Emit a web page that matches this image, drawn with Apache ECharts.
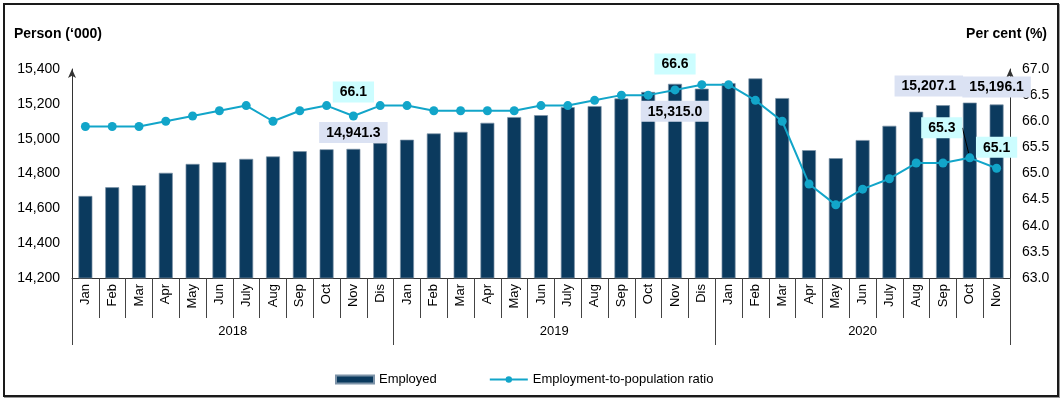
<!DOCTYPE html>
<html>
<head>
<meta charset="utf-8">
<script src="https://cdn.jsdelivr.net/npm/echarts@6/dist/echarts.min.js"></script>
<style>
  body { margin: 0; background: #fff; }
  #char1 { position: absolute; left: 0; top: 0; width: 1063px; height: 399px; }
  #frame { position: absolute; left: 3px; top: 3px; width: 1052px; height: 390px;
           border: 2px solid #1a1a1a; box-shadow: 1px 1px 0 #999; pointer-events: none; }
</style>
</head>
<body>
<div id="char1"></div>
<div id="frame"></div>
<script>
var months = ['Jan', 'Feb', 'Mar', 'Apr', 'May', 'Jun', 'July', 'Aug', 'Sep', 'Oct', 'Nov', 'Dis'];
var years = ['2018', '2019', '2020'];
var monthsPerYear = [12, 12, 11];

// Employed, persons ('000)
var employed = [14671, 14721, 14733, 14804, 14855, 14865, 14884, 14898, 14928, 14939, 14941.3, 14975,
    14994, 15030, 15039, 15091, 15124, 15135, 15181, 15187, 15231, 15268, 15315.0, 15287,
    15319, 15346, 15233, 14934, 14888, 14992, 15074, 15155, 15192, 15207.1, 15196.1];

// Employment-to-population ratio (%)
var ratio = [65.9, 65.9, 65.9, 66.0, 66.1, 66.2, 66.3, 66.0, 66.2, 66.3, 66.1, 66.3,
    66.3, 66.2, 66.2, 66.2, 66.2, 66.3, 66.3, 66.4, 66.5, 66.5, 66.6, 66.7,
    66.7, 66.4, 66.0, 64.8, 64.4, 64.7, 64.9, 65.2, 65.2, 65.3, 65.1];

var labelledPoints = [10, 22, 33, 34];

var cats = [], yearOf = [], yearStart = [], yearMid = {};
var k = 0;
years.forEach(function(y, i) {
    yearStart.push(k);
    yearMid[k + Math.floor(monthsPerYear[i] / 2)] = monthsPerYear[i] % 2 === 0;
    for (var m = 0; m < monthsPerYear[i]; m++) {
        cats.push(months[m] + ' ' + y);
        yearOf.push(y);
        k++;
    }
});

var font = 'Liberation Sans, Arial, sans-serif';
var boxLabel = {
    show: true, color: '#000', fontWeight: 'bold', fontSize: 14, fontFamily: font,
    padding: [4, 7, 3, 7]
};

var barData = employed.map(function(v, i) {
    if (labelledPoints.indexOf(i) < 0) return v;
    var lab = Object.assign({}, boxLabel, {
        backgroundColor: '#dbe2f3',
        formatter: function(p) { return p.value.toLocaleString('en-US', {minimumFractionDigits: 1, maximumFractionDigits: 1}); }
    });
    if (i === 10) { lab.position = 'top'; lab.distance = 6; }
    if (i === 22) { lab.position = 'insideTop'; lab.distance = 17; }
    if (i === 33) { lab.position = 'top'; lab.distance = 6; lab.offset = [-41, 0]; }
    if (i === 34) { lab.position = 'top'; lab.distance = 7; }
    return { value: v, label: lab };
});

var lineData = ratio.map(function(v, i) {
    if (labelledPoints.indexOf(i) < 0) return v;
    var lab = Object.assign({}, boxLabel, {
        backgroundColor: '#ccfdff', position: 'top', distance: 9,
        formatter: function(p) { return p.value.toFixed(1); }
    });
    var item = { value: v, label: lab };
    if (i !== 33) item.labelLine = { show: false };
    if (i === 22) { lab.distance = 11; }
    if (i === 34) { lab.distance = 6; }
    return item;
});

var myChart = echarts.init(document.getElementById('char1'));

var option = {
    animation: false,
    textStyle: { fontFamily: font },
    title: [
        { text: 'Person (\u2018000)', left: 9, top: 22,
          textStyle: { fontSize: 14, fontWeight: 'bold', color: '#000', fontFamily: font } },
        { text: 'Per cent (%)', right: 11, top: 22,
          textStyle: { fontSize: 14, fontWeight: 'bold', color: '#000', fontFamily: font } }
    ],
    legend: {
        bottom: 8,
        left: 330,
        itemWidth: 38,
        itemHeight: 8,
        itemGap: 52,
        textStyle: { fontSize: 13, color: '#000', fontFamily: font },
        data: [{ name: 'Employed', icon: 'rect' }, 'Employment-to-population ratio']
    },
    grid: { left: 72, right: 53, top: 69, bottom: 121 },
    xAxis: [{
        type: 'category',
        data: cats,
        position: 'bottom',
        axisLine: { onZero: false, lineStyle: { color: '#333', width: 1 } },
        axisTick: { show: true, interval: 0, length: 40, lineStyle: { color: '#444' } },
        axisLabel: {
            interval: 0, rotate: 90, margin: 6, fontSize: 13, color: '#000',
            formatter: function(v) { return v.split(' ')[0]; }
        }
    }, {
        type: 'category',
        data: yearOf,
        position: 'bottom',
        axisLine: { show: false },
        axisTick: {
            show: true, length: 67, lineStyle: { color: '#444' },
            interval: function(idx) { return yearStart.indexOf(idx) >= 0; }
        },
        axisLabel: {
            margin: 47, fontSize: 13, color: '#000',
            interval: function(idx) { return yearMid.hasOwnProperty(idx); },
            formatter: function(v, idx) { return yearMid[idx] ? '{s|' + v + '}' : v; },
            rich: { s: { fontSize: 13, color: '#000', padding: [0, 27, 0, 0] } }
        }
    }],
    yAxis: [{
        type: 'value',
        min: 14200, max: 15400, interval: 200,
        splitLine: { show: false },
        axisLine: { show: true, symbol: ['none', 'arrow'], symbolSize: [6, 9], lineStyle: { color: '#333' } },
        axisTick: { show: false },
        axisLabel: {
            margin: 12, fontSize: 14, color: '#000',
            formatter: function(v) { return v.toLocaleString('en-US'); }
        }
    }, {
        type: 'value',
        min: 63, max: 67, interval: 0.5,
        splitLine: { show: false },
        axisLine: { show: true, symbol: ['none', 'arrow'], symbolSize: [6, 9], lineStyle: { color: '#333' } },
        axisTick: { show: false },
        axisLabel: {
            margin: 12, fontSize: 14, color: '#000',
            formatter: function(v) { return v.toFixed(1); }
        }
    }],
    series: [{
        name: 'Employed',
        type: 'bar',
        xAxisIndex: 0,
        yAxisIndex: 0,
        barWidth: '52%',
        data: barData,
        itemStyle: { color: '#0b3a5e', borderColor: '#7d93a8', borderWidth: 0.7 },
        z: 2
    }, {
        name: 'Employment-to-population ratio',
        type: 'line',
        xAxisIndex: 0,
        yAxisIndex: 1,
        data: lineData,
        symbol: 'circle',
        symbolSize: 9,
        itemStyle: { color: '#12a5c9' },
        lineStyle: { color: '#12a5c9', width: 2 },
        labelLine: { show: true, lineStyle: { color: '#000', width: 1 } },
        labelLayout: function(p) {
            if (p.dataIndex === 33) return { dx: -28, dy: -6 };
        },
        z: 3
    }]
};

myChart.setOption(option);
window.addEventListener('resize', function() { myChart.resize(); });
</script>
</body>
</html>
